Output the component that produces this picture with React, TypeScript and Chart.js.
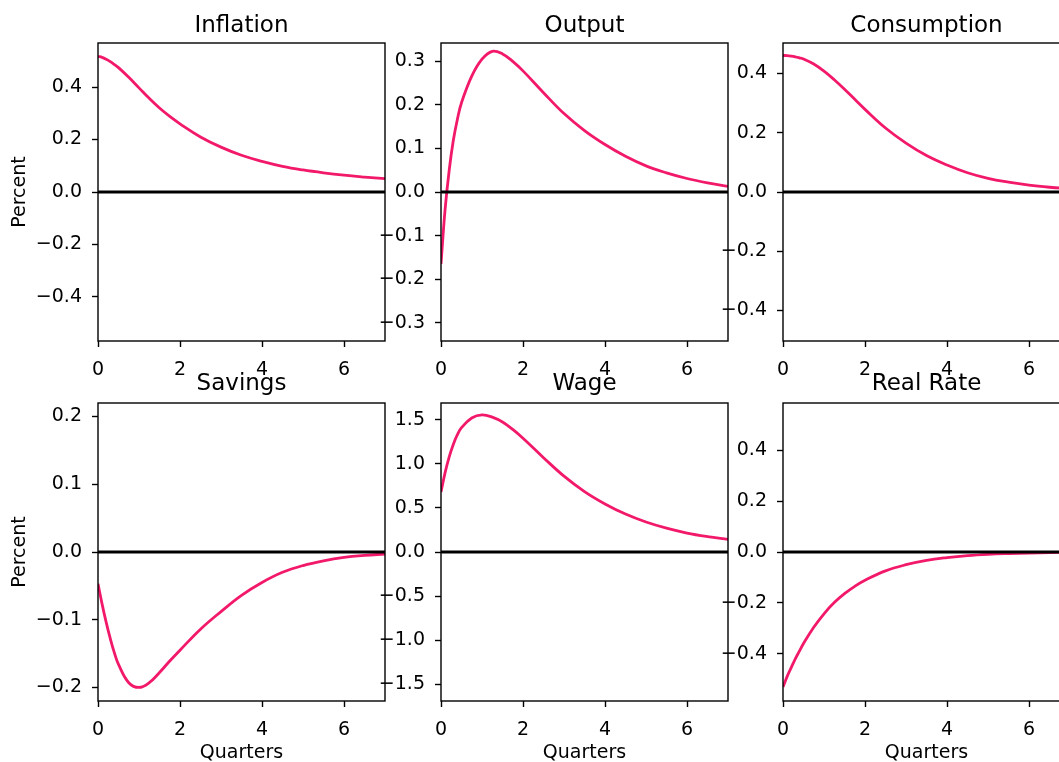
import React, { useEffect, useRef } from "react";
import { Chart, registerables } from "chart.js";

Chart.register(...registerables);

// ---- data ----
const QUARTERS = [0, 0.1, 0.2, 0.3, 0.4, 0.5, 0.75, 1, 1.25, 1.5, 1.75, 2, 2.5, 3, 3.5, 4, 4.5, 5, 5.5, 6, 6.5, 7];

const INFLATION = [0.517, 0.513, 0.506, 0.497, 0.486, 0.474, 0.437, 0.397, 0.357, 0.320, 0.288, 0.260, 0.210, 0.171, 0.140, 0.117, 0.098, 0.084, 0.073, 0.064, 0.057, 0.051];
const OUTPUT = [-0.165, -0.04, 0.05, 0.118, 0.167, 0.205, 0.266, 0.305, 0.323, 0.317, 0.300, 0.278, 0.228, 0.180, 0.141, 0.109, 0.082, 0.060, 0.044, 0.031, 0.021, 0.013];
const CONSUMPTION = [0.461, 0.4605, 0.459, 0.4565, 0.453, 0.449, 0.432, 0.408, 0.379, 0.347, 0.313, 0.279, 0.216, 0.165, 0.123, 0.091, 0.065, 0.046, 0.033, 0.023, 0.016, 0.011];
const SAVINGS = [-0.047, -0.077, -0.104, -0.128, -0.149, -0.166, -0.193, -0.200, -0.193, -0.178, -0.161, -0.145, -0.114, -0.088, -0.064, -0.045, -0.030, -0.020, -0.013, -0.008, -0.005, -0.003];
const WAGE = [0.68, 0.90, 1.08, 1.22, 1.33, 1.41, 1.52, 1.555, 1.53, 1.475, 1.39, 1.29, 1.07, 0.86, 0.685, 0.545, 0.43, 0.34, 0.27, 0.215, 0.175, 0.144];
const REAL_RATE = [-0.531, -0.49, -0.455, -0.42, -0.39, -0.36, -0.296, -0.243, -0.199, -0.164, -0.135, -0.111, -0.074, -0.050, -0.033, -0.022, -0.014, -0.009, -0.006, -0.004, -0.002, -0.001];

const TITLES = ["Inflation", "Output", "Consumption", "Savings", "Wage", "Real Rate"];
const SERIES = [INFLATION, OUTPUT, CONSUMPTION, SAVINGS, WAGE, REAL_RATE];
const Y_LIMITS = [0.568, 0.342, 0.503, 0.22, 1.69, 0.586];
const Y_STEPS = [0.2, 0.1, 0.2, 0.1, 0.5, 0.2];
const X_TICK_STEP = 2;
const X_MAX = 7;
const Y_LABEL = "Percent";
const X_LABEL = "Quarters";

// ---- style / layout ----
const FONT = "DejaVu Sans";
const PINK = "#f2196a";
const COL_LEFT = [0, 343, 685];
const ROW_TOP = [0, 360];
const TITLE_GAP = [10.7, 13.4];
const LEFT_W = 98;
const TOP_H = 43;
const PLOT_W = 287;
const PLOT_H = 298;
const RIGHT_PAD = 40;
const BOTTOM_H = 64;
const CANVAS_W = LEFT_W + PLOT_W + RIGHT_PAD;
const CANVAS_H = TOP_H + PLOT_H + BOTTOM_H;
const TICK_FONT = 19;
const TITLE_FONT = 23;

const fmtY = (v: number) => {
  if (Math.abs(v) < 1e-9) return "0.0";
  return (v < 0 ? "\u2212" : "") + Math.abs(v).toFixed(1);
};

function Panel({ idx }: { idx: number }) {
  const ref = useRef<HTMLCanvasElement>(null);
  const col = idx % 3;
  const row = Math.floor(idx / 3);

  useEffect(() => {
    const canvas = ref.current;
    if (!canvas) return;
    const lim = Y_LIMITS[idx];
    const textPlugin = {
      id: "panelText",
      afterDatasetsDraw(chart: any) {
        const { ctx, chartArea } = chart;
        ctx.save();
        ctx.strokeStyle = "#000";
        ctx.lineWidth = 1.4;
        ctx.strokeRect(chartArea.left, chartArea.top, chartArea.right - chartArea.left, chartArea.bottom - chartArea.top);
        ctx.restore();
      },
      afterDraw(chart: any) {
        const { ctx, chartArea } = chart;
        const cx = (chartArea.left + chartArea.right) / 2;
        const cy = (chartArea.top + chartArea.bottom) / 2;
        ctx.save();
        ctx.fillStyle = "#000";
        ctx.textAlign = "center";
        ctx.textBaseline = "alphabetic";
        ctx.font = `${TITLE_FONT}px "${FONT}"`;
        ctx.fillText(TITLES[idx], cx, chartArea.top - TITLE_GAP[row]);
        ctx.font = `${TICK_FONT}px "${FONT}"`;
        if (row === 1) ctx.fillText(X_LABEL, cx, chartArea.bottom + 57);
        if (col === 0) {
          ctx.translate(25, cy);
          ctx.rotate(-Math.PI / 2);
          ctx.fillText(Y_LABEL, 0, 0);
        }
        ctx.restore();
      },
    };

    const chart = new Chart(canvas, {
      type: "line",
      data: {
        datasets: [
          {
            data: QUARTERS.map((x, i) => ({ x, y: SERIES[idx][i] })),
            borderColor: PINK,
            borderWidth: 2.8,
            pointRadius: 0,
            fill: false,
            tension: 0.4,
            order: 1,
          },
          {
            data: [
              { x: 0, y: 0 },
              { x: X_MAX, y: 0 },
            ],
            borderColor: "#000",
            borderWidth: 2.8,
            pointRadius: 0,
            fill: false,
            order: 0,
          },
        ],
      },
      options: {
        animation: false,
        responsive: false,
        events: [],
        layout: { padding: { left: 0, top: TOP_H, right: RIGHT_PAD, bottom: 0 } },
        plugins: {
          legend: { display: false },
          tooltip: { enabled: false },
          title: { display: false },
        },
        scales: {
          x: {
            type: "linear",
            min: 0,
            max: X_MAX,
            afterFit: (s: any) => {
              s.height = BOTTOM_H;
            },
            ticks: {
              stepSize: X_TICK_STEP,
              includeBounds: false,
              autoSkip: false,
              maxRotation: 0,
              padding: 12,
              color: "#000",
              font: { family: FONT, size: TICK_FONT },
              callback: (v: any) => String(v),
            },
            grid: {
              drawOnChartArea: false,
              drawTicks: true,
              tickLength: 6,
              tickWidth: 1.4,
              tickColor: "#000",
            },
            border: { display: false },
          },
          y: {
            type: "linear",
            min: -lim,
            max: lim,
            afterFit: (s: any) => {
              s.width = LEFT_W;
            },
            ticks: {
              stepSize: Y_STEPS[idx],
              includeBounds: false,
              autoSkip: false,
              padding: 10,
              color: "#000",
              font: { family: FONT, size: TICK_FONT },
              callback: (v: any) => fmtY(Number(v)),
            },
            grid: {
              drawOnChartArea: false,
              drawTicks: true,
              tickLength: 6,
              tickWidth: 1.4,
              tickColor: "#000",
            },
            border: { display: false },
          },
        },
      },
      plugins: [textPlugin],
    } as any);
    return () => chart.destroy();
  }, [idx]);

  return (
    <canvas
      ref={ref}
      width={CANVAS_W}
      height={CANVAS_H}
      style={{ position: "absolute", left: COL_LEFT[col], top: ROW_TOP[row], width: CANVAS_W, height: CANVAS_H }}
    />
  );
}

export default function App() {
  return (
    <div
      style={{
        position: "fixed",
        left: 0,
        top: 0,
        width: 1059,
        height: 762,
        overflow: "hidden",
        background: "#fff",
      }}
    >
      {TITLES.map((_, i) => (
        <Panel key={i} idx={i} />
      ))}
    </div>
  );
}
